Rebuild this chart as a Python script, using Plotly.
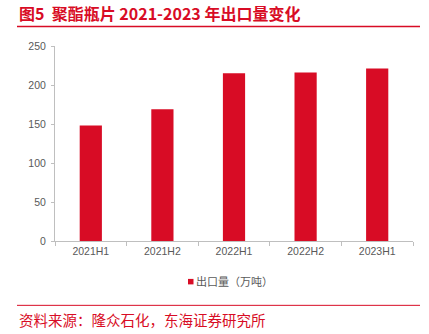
import plotly.graph_objects as go

categories = ["2021H1", "2021H2", "2022H1", "2022H2", "2023H1"]
export_volume = [148, 169, 215, 216, 221]
series_name = "出口量（万吨）"
title_text = "图5\u00a0\u00a0聚酯瓶片 2021-2023 年出口量变化"
source_text = "资料来源：隆众石化，东海证券研究所"
y_ticks = [0, 50, 100, 150, 200, 250]

W, H = 429, 334
L, R, T, B = 55, 16, 46, 92.5
pw, ph = W - L - R, H - T - B

def px(x):
    return (x - L) / pw

def py(y):
    return (H - B - y) / ph

RED = "#D80C25"
GRAY = "#595959"
AXIS = "#BFBFBF"

fig = go.Figure()
fig.add_trace(go.Bar(
    x=categories, y=export_volume, name=series_name,
    marker=dict(color=RED, line=dict(width=0)),
))

fig.update_layout(
    width=W, height=H,
    margin=dict(l=L, r=R, t=T, b=B, pad=0),
    paper_bgcolor="white", plot_bgcolor="white",
    bargap=0.69,
    showlegend=False,
    font=dict(family="Liberation Sans, Arial", size=11, color=GRAY),
    xaxis=dict(showgrid=False, showline=True, linecolor=AXIS, linewidth=1,
               ticks="outside", ticklen=4, tickcolor=AXIS, tickson="boundaries",
               tickfont=dict(size=10.5, color=GRAY), fixedrange=True),
    yaxis=dict(range=[0, 250], tickvals=y_ticks, showgrid=False, zeroline=False,
               showline=True, linecolor=AXIS, linewidth=1,
               ticks="outside", ticklen=3, tickcolor=AXIS,
               tickfont=dict(size=10.5, color=GRAY), ticklabelstandoff=3, fixedrange=True),
    shapes=[
        dict(type="line", xref="paper", yref="paper", x0=px(17), x1=px(420), y0=py(26.5), y1=py(26.5),
             line=dict(color=RED, width=1.5)),
        dict(type="line", xref="paper", yref="paper", x0=px(17), x1=px(420), y0=py(306), y1=py(306),
             line=dict(color=RED, width=1)),
        dict(type="rect", xref="paper", yref="paper", x0=px(188), x1=px(193.5), y0=py(279.5), y1=py(285),
             fillcolor=RED, line=dict(width=0)),
    ],
    annotations=[
        dict(text="<b>" + title_text + "</b>", xref="paper", yref="paper", x=px(17), y=py(13),
             xanchor="left", yanchor="middle", showarrow=False,
             font=dict(family="Noto Sans CJK SC", size=16, color=RED)),
        dict(text=source_text, xref="paper", yref="paper", x=px(17), y=py(320),
             xanchor="left", yanchor="middle", showarrow=False,
             font=dict(family="Noto Sans CJK SC", size=14.5, color=RED)),
        dict(text=series_name, xref="paper", yref="paper", x=px(194), y=py(282),
             xanchor="left", yanchor="middle", showarrow=False,
             font=dict(family="Noto Sans CJK SC", size=11, color=GRAY)),
    ],
)

fig.write_html("out.html")
